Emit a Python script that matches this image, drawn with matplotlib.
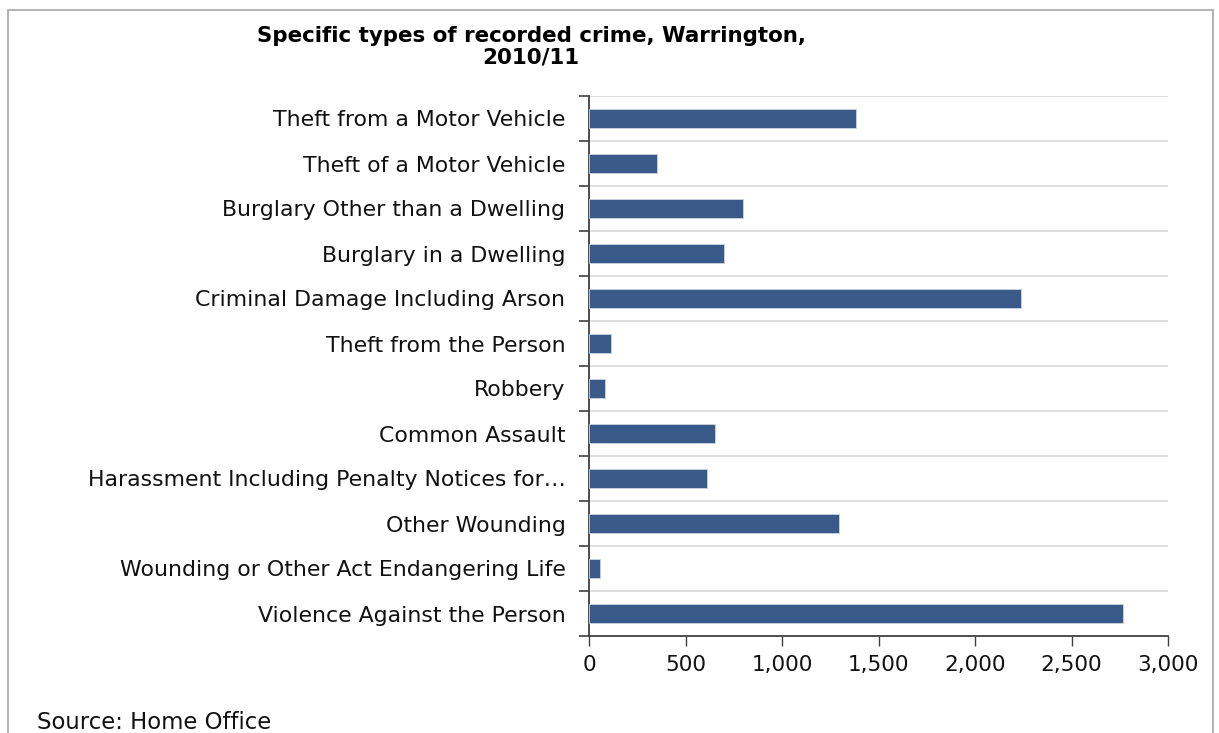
import numpy as np
import matplotlib
matplotlib.use("Agg")
import matplotlib.pyplot as plt
from matplotlib.patches import Rectangle

# categories listed top to bottom as in the chart
categories = [
    "Theft from a Motor Vehicle",
    "Theft of a Motor Vehicle",
    "Burglary Other than a Dwelling",
    "Burglary in a Dwelling",
    "Criminal Damage Including Arson",
    "Theft from the Person",
    "Robbery",
    "Common Assault",
    "Harassment Including Penalty Notices for\u2026",
    "Other Wounding",
    "Wounding or Other Act Endangering Life",
    "Violence Against the Person",
]
values = [1385, 350, 800, 700, 2240, 115, 85, 655, 610, 1295, 55, 2765]
xticks = [0, 500, 1000, 1500, 2000, 2500, 3000]

# the source text is wide (stretched Arial look) -> DejaVu is the closest width
plt.rcParams["font.family"] = ["DejaVu Sans"]

W, H = 1219, 733
fig = plt.figure(figsize=(W / 100, H / 100), dpi=100)

# outer frame of the chart object (runs off the bottom edge)
fig.patches.append(Rectangle((8 / W, -0.1), (1213 - 8) / W, 1.1 - 10 / H,
                             transform=fig.transFigure, fill=False,
                             edgecolor="#a6a6a6", linewidth=1.2))

left, right, top, bottom = 589, 1168, 96, 636
ax = fig.add_axes([left / W, 1 - bottom / H, (right - left) / W, (bottom - top) / H])

n = len(categories)
y = np.arange(n)
ax.barh(y, values, height=0.44, color="#3a5a89", edgecolor="#c9d3e3", linewidth=0.6,
        zorder=3)
ax.set_ylim(n - 0.5, -0.5)
ax.set_xlim(0, 3000)

# light grid lines between categories
for b in np.arange(-0.5, n - 0.5, 1.0):
    ax.axhline(b, color="#d9d9d9", linewidth=1.2, zorder=1)

ax.set_yticks(y)
ax.set_yticklabels(categories, fontsize=15.8, color="#111111")
ax.set_yticks(np.arange(-0.5, n, 1.0), minor=True)
ax.tick_params(axis="y", which="major", length=0, pad=17)
ax.tick_params(axis="y", which="minor", length=7, width=1.2, color="#404040")

ax.set_xticks(xticks)
ax.set_xticklabels([f"{v:,}" for v in xticks], fontsize=15.5, color="#111111")
ax.tick_params(axis="x", length=7, width=1.0, color="#404040", pad=7)

for s in ["top", "right"]:
    ax.spines[s].set_visible(False)
ax.spines["left"].set_color("#404040")
ax.spines["left"].set_linewidth(1.3)
ax.spines["bottom"].set_color("#404040")
ax.spines["bottom"].set_linewidth(1.3)

fig.text(531 / W, 1 - 46.5 / H, "Specific types of recorded crime, Warrington,\n2010/11",
         ha="center", va="center", fontsize=15.4, fontweight="bold", linespacing=1.12)

# source note sits right at the bottom edge (it is clipped in the original)
fig.text(37 / W, 1 - 729 / H, "Source: Home Office", ha="left", va="baseline",
         fontsize=16.4, color="#111111")

fig.savefig("out.png", dpi=100)
